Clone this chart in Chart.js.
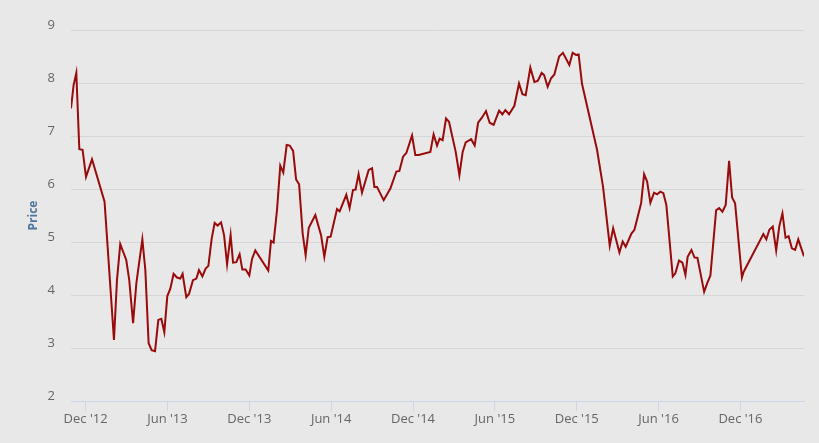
<!DOCTYPE html>
<html>
<head>
<meta charset="utf-8">
<title>Price</title>
<script src="https://cdn.jsdelivr.net/npm/chart.js@4.4.1/dist/chart.umd.min.js"></script>
<style>
  html, body { margin: 0; padding: 0; background: #e8e8e8; }
  #wrap { width: 819px; height: 443px; }
</style>
</head>
<body>
<div id="wrap"><canvas id="priceChart" width="819" height="443"></canvas></div>
<script>
// x = months since 1 Dec 2012, y = price
const months = [
  -1.07, -0.88, -0.68, -0.46, -0.22, 0.03, 0.47, 1.39, 2.08, 2.30,
  2.54, 2.98, 3.20, 3.48, 3.72, 4.16, 4.38, 4.62, 4.84, 5.09,
  5.33, 5.55, 5.77, 5.99, 6.21, 6.45, 6.70, 6.94, 7.11, 7.38,
  7.58, 7.87, 8.12, 8.31, 8.56, 8.80, 9.00, 9.24, 9.46, 9.68,
  9.93, 10.15, 10.37, 10.63, 10.81, 11.05, 11.29, 11.49, 11.73, 12.00,
  12.20, 12.44, 13.39, 13.59, 13.78, 14.03, 14.27, 14.49, 14.74, 14.96,
  15.21, 15.43, 15.65, 15.91, 16.13, 16.36, 16.84, 17.08, 17.26, 17.50,
  17.74, 17.96, 18.43, 18.62, 19.11, 19.35, 19.60, 19.79, 20.01, 20.26,
  20.75, 21.00, 21.17, 21.36, 21.85, 22.34, 22.78, 23.00, 23.27, 23.51,
  23.93, 24.17, 24.41, 25.27, 25.51, 25.76, 25.95, 26.17, 26.42, 26.64,
  26.88, 27.13, 27.40, 27.64, 27.86, 28.26, 28.52, 28.77, 29.06, 29.35,
  29.62, 29.91, 30.31, 30.55, 30.77, 31.04, 31.43, 31.77, 32.02, 32.26,
  32.60, 32.90, 33.14, 33.43, 33.61, 33.87, 34.12, 34.36, 34.71, 34.99,
  35.46, 35.70, 35.95, 36.14, 36.39, 37.49, 37.93, 38.42, 38.67, 39.13,
  39.37, 39.59, 40.01, 40.23, 40.72, 40.94, 41.16, 41.40, 41.67, 41.89,
  42.13, 42.35, 42.57, 43.04, 43.23, 43.50, 43.75, 43.97, 44.13, 44.41,
  44.63, 44.85, 45.34, 45.56, 45.80, 46.22, 46.44, 46.68, 46.92, 47.17,
  47.39, 47.61, 48.11, 48.24, 49.68, 49.90, 50.12, 50.37, 50.62, 50.85,
  51.08, 51.31, 51.53, 51.77, 52.01, 52.24, 52.66
];

const prices = [
  7.52, 7.96, 8.19, 6.75, 6.74, 6.23, 6.56, 5.76, 3.15, 4.28,
  4.96, 4.66, 4.28, 3.47, 4.22, 5.05, 4.47, 3.09, 2.96, 2.94,
  3.53, 3.55, 3.30, 3.98, 4.12, 4.40, 4.33, 4.31, 4.40, 3.96,
  4.02, 4.28, 4.31, 4.47, 4.35, 4.50, 4.55, 5.06, 5.36, 5.31,
  5.37, 5.13, 4.58, 5.13, 4.61, 4.62, 4.77, 4.48, 4.48, 4.37,
  4.68, 4.84, 4.46, 5.02, 4.99, 5.60, 6.44, 6.31, 6.83, 6.82,
  6.72, 6.18, 6.09, 5.16, 4.75, 5.27, 5.51, 5.29, 5.13, 4.72,
  5.09, 5.10, 5.62, 5.58, 5.89, 5.64, 5.98, 5.99, 6.28, 5.93,
  6.36, 6.39, 6.04, 6.04, 5.79, 6.01, 6.33, 6.34, 6.61, 6.68,
  7.01, 6.64, 6.64, 6.70, 7.03, 6.82, 6.95, 6.92, 7.33, 7.27,
  6.99, 6.70, 6.26, 6.70, 6.88, 6.94, 6.82, 7.25, 7.35, 7.47,
  7.25, 7.21, 7.48, 7.41, 7.49, 7.41, 7.57, 7.99, 7.79, 7.77,
  8.29, 8.02, 8.04, 8.19, 8.15, 7.93, 8.09, 8.16, 8.50, 8.57,
  8.34, 8.57, 8.53, 8.54, 7.98, 6.74, 6.04, 4.93, 5.26, 4.80,
  5.01, 4.91, 5.16, 5.23, 5.73, 6.28, 6.14, 5.74, 5.93, 5.90,
  5.95, 5.92, 5.70, 4.35, 4.41, 4.65, 4.61, 4.38, 4.72, 4.85,
  4.71, 4.70, 4.06, 4.22, 4.37, 5.60, 5.64, 5.57, 5.70, 6.53,
  5.84, 5.73, 4.33, 4.44, 5.15, 5.05, 5.23, 5.29, 4.84, 5.30,
  5.54, 5.08, 5.11, 4.88, 4.85, 5.05, 4.73
];

const tickMonths = [0, 6, 12, 18, 24, 30, 36, 42, 48];
const tickLabels = ["Dec '12", "Jun '13", "Dec '13", "Jun '14", "Dec '14", "Jun '15", "Dec '15", "Jun '16", "Dec '16"];

const points = months.map((m, i) => ({ x: m, y: prices[i] }));

const ctx = document.getElementById('priceChart').getContext('2d');
new Chart(ctx, {
  type: 'line',
  data: {
    datasets: [{
      label: 'Price',
      data: points,
      borderColor: '#990a0a',
      borderWidth: 2,
      pointRadius: 0,
      tension: 0,
      fill: false
    }]
  },
  options: {
    responsive: false,
    animation: false,
    layout: { padding: { top: 30, right: 15, bottom: 0, left: 0 } },
    plugins: {
      legend: { display: false },
      tooltip: { enabled: false }
    },
    scales: {
      x: {
        type: 'linear',
        min: months[0],
        max: months[months.length - 1],
        afterBuildTicks: function(scale) {
          scale.ticks = tickMonths.map(v => ({ value: v }));
        },
        afterFit: function(scale) { scale.height = 42; },
        grid: {
          display: true,
          drawOnChartArea: false,
          drawTicks: true,
          tickLength: 10,
          color: '#ccd6eb'
        },
        border: { display: true, color: '#ccd6eb' },
        ticks: {
          autoSkip: false,
          maxRotation: 0,
          padding: 0,
          color: '#666666',
          font: { family: '"Open Sans", sans-serif', size: 13 },
          callback: function(value) {
            const i = tickMonths.indexOf(value);
            return i >= 0 ? tickLabels[i] : '';
          }
        }
      },
      y: {
        min: 2,
        max: 9,
        afterFit: function(scale) { scale.width = 71; },
        grid: { color: '#d6d6d6', drawTicks: false },
        border: { display: false },
        ticks: {
          stepSize: 1,
          padding: 16,
          labelOffset: -5,
          color: '#666666',
          font: { family: '"Open Sans", sans-serif', size: 13 }
        },
        title: {
          display: true,
          text: 'Price',
          color: '#4d759e',
          padding: { top: 26, bottom: 0 },
          font: { family: '"Open Sans", sans-serif', size: 12, weight: 'bold' }
        }
      }
    }
  }
});
</script>
</body>
</html>
